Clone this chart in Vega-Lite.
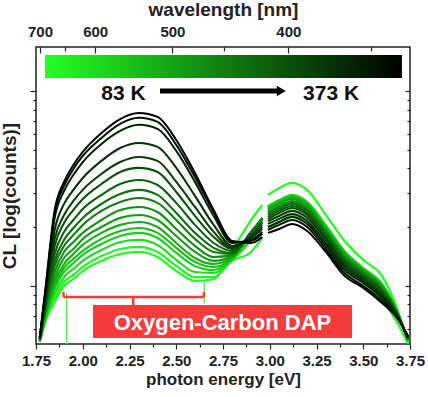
{
 "$schema": "https://vega.github.io/schema/vega-lite/v6.json",
 "width": 374, "height": 297,
 "autosize": {"type": "none"},
 "padding": {"left": 36, "top": 47, "right": 18, "bottom": 53},
 "background": "white",
 "config": {
  "view": {"stroke": "#222", "strokeWidth": 1.5},
  "font": "Liberation Sans",
  "axis": {"labelFont": "Liberation Sans", "titleFont": "Liberation Sans", "labelFontWeight": "bold", "titleFontWeight": "bold", "labelColor": "#222", "titleColor": "#222", "tickColor": "#222", "tickWidth": 1.2, "domain": false, "grid": false, "labelOverlap": false, "labelFlush": false}
 },
 "datasets": {
  "spec": [
   {"E":1.77,"s":1,"T83":2.710,"T101":2.710,"T119":2.710,"T137":2.716,"T155":2.716,"T173":2.716,"T191":2.721,"T209":2.721,"T227":2.721,"T245":2.721,"T263":2.726,"T281":2.726,"T299":2.726,"T317":2.726,"T335":2.731,"T353":2.731,"T373":2.731},
   {"E":1.80,"s":1,"T83":2.813,"T101":2.818,"T119":2.829,"T137":2.834,"T155":2.839,"T173":2.849,"T191":2.860,"T209":2.865,"T227":2.875,"T245":2.885,"T263":2.901,"T281":2.911,"T299":2.926,"T317":2.942,"T335":2.962,"T353":2.972,"T373":2.978},
   {"E":1.85,"s":1,"T83":2.916,"T101":2.932,"T119":2.957,"T137":2.983,"T155":2.998,"T173":3.019,"T191":3.039,"T209":3.070,"T227":3.101,"T245":3.127,"T263":3.163,"T281":3.204,"T299":3.240,"T317":3.286,"T335":3.348,"T353":3.373,"T373":3.389},
   {"E":1.90,"s":1,"T83":2.998,"T101":3.019,"T119":3.044,"T137":3.070,"T155":3.091,"T173":3.111,"T191":3.142,"T209":3.173,"T227":3.204,"T245":3.235,"T263":3.276,"T281":3.322,"T299":3.363,"T317":3.420,"T335":3.486,"T353":3.512,"T373":3.533},
   {"E":1.95,"s":1,"T83":3.034,"T101":3.055,"T119":3.086,"T137":3.116,"T155":3.137,"T173":3.163,"T191":3.188,"T209":3.224,"T227":3.260,"T245":3.296,"T263":3.337,"T281":3.389,"T299":3.435,"T317":3.492,"T335":3.569,"T353":3.599,"T373":3.620},
   {"E":2.00,"s":1,"T83":3.075,"T101":3.096,"T119":3.127,"T137":3.158,"T155":3.178,"T173":3.209,"T191":3.240,"T209":3.271,"T227":3.312,"T245":3.348,"T263":3.394,"T281":3.445,"T299":3.492,"T317":3.553,"T335":3.635,"T353":3.666,"T373":3.687},
   {"E":2.10,"s":1,"T83":3.127,"T101":3.152,"T119":3.183,"T137":3.214,"T155":3.240,"T173":3.271,"T191":3.301,"T209":3.337,"T227":3.384,"T245":3.420,"T263":3.466,"T281":3.522,"T299":3.574,"T317":3.641,"T335":3.728,"T353":3.759,"T373":3.784},
   {"E":2.20,"s":1,"T83":3.163,"T101":3.188,"T119":3.224,"T137":3.255,"T155":3.281,"T173":3.312,"T191":3.348,"T209":3.389,"T227":3.430,"T245":3.471,"T263":3.522,"T281":3.584,"T299":3.635,"T317":3.707,"T335":3.795,"T353":3.831,"T373":3.856},
   {"E":2.30,"s":1,"T83":3.173,"T101":3.199,"T119":3.235,"T137":3.271,"T155":3.296,"T173":3.327,"T191":3.363,"T209":3.404,"T227":3.450,"T245":3.492,"T263":3.543,"T281":3.605,"T299":3.661,"T317":3.733,"T335":3.826,"T353":3.862,"T373":3.887},
   {"E":2.40,"s":1,"T83":3.147,"T101":3.173,"T119":3.209,"T137":3.245,"T155":3.271,"T173":3.301,"T191":3.337,"T209":3.378,"T227":3.425,"T245":3.466,"T263":3.517,"T281":3.584,"T299":3.641,"T317":3.713,"T335":3.805,"T353":3.841,"T373":3.867},
   {"E":2.50,"s":1,"T83":3.075,"T101":3.101,"T119":3.132,"T137":3.168,"T155":3.194,"T173":3.219,"T191":3.255,"T209":3.291,"T227":3.337,"T245":3.373,"T263":3.425,"T281":3.481,"T299":3.533,"T317":3.605,"T335":3.692,"T353":3.723,"T373":3.748},
   {"E":2.60,"s":1,"T83":3.024,"T101":3.044,"T119":3.070,"T137":3.101,"T155":3.122,"T173":3.142,"T191":3.173,"T209":3.204,"T227":3.240,"T245":3.271,"T263":3.312,"T281":3.358,"T299":3.404,"T317":3.461,"T335":3.533,"T353":3.558,"T373":3.579},
   {"E":2.70,"s":1,"T83":3.034,"T101":3.044,"T119":3.065,"T137":3.080,"T155":3.096,"T173":3.111,"T191":3.127,"T209":3.147,"T227":3.173,"T245":3.194,"T263":3.219,"T281":3.250,"T299":3.276,"T317":3.312,"T335":3.358,"T353":3.378,"T373":3.389},
   {"E":2.80,"s":1,"T83":3.183,"T101":3.127,"T119":3.132,"T137":3.137,"T155":3.142,"T173":3.147,"T191":3.152,"T209":3.158,"T227":3.163,"T245":3.168,"T263":3.178,"T281":3.188,"T299":3.194,"T317":3.204,"T335":3.219,"T353":3.224,"T373":3.229},
   {"E":2.90,"s":1,"T83":3.337,"T101":3.173,"T119":3.235,"T137":3.255,"T155":3.266,"T173":3.271,"T191":3.276,"T209":3.276,"T227":3.276,"T245":3.271,"T263":3.266,"T281":3.260,"T299":3.255,"T317":3.245,"T335":3.235,"T353":3.229,"T373":3.219},
   {"E":2.96,"s":1,"T83":3.414,"T101":3.245,"T119":3.327,"T137":3.343,"T155":3.348,"T173":3.348,"T191":3.348,"T209":3.343,"T227":3.337,"T245":3.327,"T263":3.322,"T281":3.312,"T299":3.301,"T317":3.291,"T335":3.276,"T353":3.266,"T373":3.250},
   {"E":2.99,"s":2,"T83":3.466,"T101":3.286,"T119":3.409,"T137":3.404,"T155":3.399,"T173":3.394,"T191":3.389,"T209":3.378,"T227":3.373,"T245":3.363,"T263":3.353,"T281":3.343,"T299":3.332,"T317":3.317,"T335":3.301,"T353":3.286,"T373":3.271},
   {"E":3.05,"s":2,"T83":3.502,"T101":3.327,"T119":3.440,"T137":3.435,"T155":3.430,"T173":3.425,"T191":3.420,"T209":3.409,"T227":3.399,"T245":3.394,"T263":3.384,"T281":3.373,"T299":3.358,"T317":3.343,"T335":3.327,"T353":3.312,"T373":3.291},
   {"E":3.12,"s":2,"T83":3.528,"T101":3.358,"T119":3.466,"T137":3.461,"T155":3.456,"T173":3.450,"T191":3.445,"T209":3.435,"T227":3.425,"T245":3.420,"T263":3.409,"T281":3.399,"T299":3.384,"T317":3.368,"T335":3.353,"T353":3.337,"T373":3.317},
   {"E":3.20,"s":2,"T83":3.492,"T101":3.327,"T119":3.430,"T137":3.425,"T155":3.420,"T173":3.414,"T191":3.409,"T209":3.399,"T227":3.389,"T245":3.384,"T263":3.373,"T281":3.363,"T299":3.348,"T317":3.332,"T335":3.317,"T353":3.301,"T373":3.281},
   {"E":3.30,"s":2,"T83":3.363,"T101":3.214,"T119":3.312,"T137":3.301,"T155":3.296,"T173":3.291,"T191":3.286,"T209":3.281,"T227":3.271,"T245":3.266,"T263":3.255,"T281":3.245,"T299":3.235,"T317":3.219,"T335":3.204,"T353":3.188,"T373":3.173},
   {"E":3.40,"s":2,"T83":3.229,"T101":3.091,"T119":3.178,"T137":3.173,"T155":3.168,"T173":3.163,"T191":3.158,"T209":3.152,"T227":3.142,"T245":3.137,"T263":3.127,"T281":3.116,"T299":3.106,"T317":3.096,"T335":3.080,"T353":3.065,"T373":3.050},
   {"E":3.50,"s":2,"T83":3.132,"T101":3.014,"T119":3.091,"T137":3.086,"T155":3.080,"T173":3.080,"T191":3.075,"T209":3.070,"T227":3.065,"T245":3.055,"T263":3.050,"T281":3.044,"T299":3.034,"T317":3.024,"T335":3.014,"T353":2.998,"T373":2.988},
   {"E":3.60,"s":2,"T83":3.050,"T101":2.926,"T119":3.009,"T137":3.009,"T155":3.003,"T173":2.998,"T191":2.993,"T209":2.988,"T227":2.983,"T245":2.978,"T263":2.972,"T281":2.962,"T299":2.957,"T317":2.947,"T335":2.937,"T353":2.921,"T373":2.911},
   {"E":3.68,"s":2,"T83":2.885,"T101":2.813,"T119":2.870,"T137":2.870,"T155":2.870,"T173":2.865,"T191":2.865,"T209":2.865,"T227":2.860,"T245":2.860,"T263":2.854,"T281":2.854,"T299":2.849,"T317":2.844,"T335":2.844,"T353":2.839,"T373":2.834},
   {"E":3.74,"s":2,"T83":2.705,"T101":2.700,"T119":2.716,"T137":2.716,"T155":2.716,"T173":2.721,"T191":2.721,"T209":2.721,"T227":2.721,"T245":2.726,"T263":2.726,"T281":2.726,"T299":2.731,"T317":2.731,"T335":2.736,"T353":2.736,"T373":2.741}
  ]
 },
 "resolve": {"axis": {"x": "independent", "y": "independent"}},
 "layer": [
  {
   "data": {"name": "spec"},
   "transform": [{"fold": ["T83","T101","T119","T137","T155","T173","T191","T209","T227","T245","T263","T281","T299","T317","T335","T353","T373"], "as": ["T", "L"]}],
   "mark": {"type": "line", "interpolate": "monotone", "clip": true},
   "encoding": {
    "x": {"field": "E", "type": "quantitative", "scale": {"domain": [1.75, 3.75], "nice": false},
     "axis": {"orient": "bottom", "values": [1.75,1.875,2,2.125,2.25,2.375,2.5,2.625,2.75,2.875,3,3.125,3.25,3.375,3.5,3.625,3.75],
      "labelExpr": "abs(datum.value*4 - round(datum.value*4)) < 0.01 ? format(datum.value, '.2f') : ''",
      "tickSize": {"condition": {"test": "abs(datum.value*4 - round(datum.value*4)) < 0.01", "value": 5}, "value": 3},
      "labelFontSize": 15, "labelPadding": 4, "title": "photon energy [eV]", "titleFontSize": 17, "titlePadding": 3}},
    "y": {"field": "L", "type": "quantitative", "scale": {"domain": [2.7, 4.226], "nice": false, "zero": false},
     "axis": {"orient": "left", "values": [2.778,2.845,2.903,2.954,3,3.301,3.477,3.602,3.699,3.778,3.845,3.903,3.954,4], "labels": false,
      "tickSize": {"condition": {"test": "datum.value == 3 || datum.value == 4", "value": 6}, "value": 3},
      "title": "CL [log(counts)]", "titleFontSize": 19, "titlePadding": 10}},
    "color": {"field": "T", "type": "nominal", "legend": null,
     "scale": {"domain": ["T83","T101","T119","T137","T155","T173","T191","T209","T227","T245","T263","T281","T299","T317","T335","T353","T373"],
      "range": ["#1eff1e","#22f522","#1adf1a","#18cf18","#17bf17","#15af15","#139f13","#118f11","#0f800f","#0d700d","#0b600b","#095009","#084008","#063006","#042004","#021002","#000000"]}},
    "strokeWidth": {"field": "T", "type": "nominal", "legend": null,
     "scale": {"domain": ["T83","T101","T119","T137","T155","T173","T191","T209","T227","T245","T263","T281","T299","T317","T335","T353","T373"],
      "range": [2.2,2,2.1,2,1.9,1.8,1.7,1.6,1.5,1.4,1.3,1.3,1.2,1.2,1.2,1.2,1.2]}},
    "detail": {"field": "s", "type": "nominal"}
   }
  },
  {
   "data": {"values": [{"E1": 1.798, "E2": 3.707, "L1": 4.067, "L2": 4.185}]},
   "mark": {"type": "rect", "fill": {"gradient": "linear", "x1": 0, "x2": 1, "y1": 0, "y2": 0, "stops": [{"offset": 0, "color": "#22ff22"}, {"offset": 1, "color": "#000000"}]}},
   "encoding": {
    "x": {"field": "E1", "type": "quantitative", "scale": {"domain": [1.75, 3.75], "nice": false},
     "axis": {"orient": "top", "values": [1.7712,1.9074,2.0664,2.4797,2.7552,3.0996,3.5424],
      "labelExpr": "round(1239.84/datum.value) % 100 == 0 ? '' + round(1239.84/datum.value) : ''",
      "tickSize": {"condition": {"test": "round(1239.84/datum.value) % 100 == 0", "value": -6}, "value": -4},
      "labelFontSize": 15, "labelPadding": 14, "title": "wavelength [nm]", "titleFontSize": 19, "titlePadding": 3}},
    "x2": {"field": "E2"},
    "y": {"field": "L1", "type": "quantitative", "scale": {"domain": [2.7, 4.226], "nice": false, "zero": false},
     "axis": {"orient": "right", "values": [2.778,2.845,2.903,2.954,3,3.301,3.477,3.602,3.699,3.778,3.845,3.903,3.954,4], "labels": false,
      "tickSize": {"condition": {"test": "datum.value == 3 || datum.value == 4", "value": -5}, "value": -3}, "title": null}},
    "y2": {"field": "L2"}
   }
  },
  {
   "data": {"values": [{"E1": 2.413, "E2": 3.05, "L": 4.0}]},
   "mark": {"type": "rule", "strokeWidth": 5, "color": "#000"},
   "encoding": {
    "x": {"field": "E1", "type": "quantitative", "scale": {"domain": [1.75, 3.75], "nice": false}, "axis": null},
    "x2": {"field": "E2"},
    "y": {"field": "L", "type": "quantitative", "scale": {"domain": [2.7, 4.226], "nice": false, "zero": false}, "axis": null}
   }
  },
  {
   "data": {"values": [{"E": 3.062, "L": 4.0}]},
   "mark": {"type": "point", "shape": "triangle-right", "filled": true, "size": 110, "color": "#000", "opacity": 1},
   "encoding": {
    "x": {"field": "E", "type": "quantitative", "scale": {"domain": [1.75, 3.75], "nice": false}, "axis": null},
    "y": {"field": "L", "type": "quantitative", "scale": {"domain": [2.7, 4.226], "nice": false, "zero": false}, "axis": null}
   }
  },
  {
   "data": {"values": [{"E": 2.218, "L": 3.954, "t": "83 K"}, {"E": 3.328, "L": 3.954, "t": "373 K"}]},
   "mark": {"type": "text", "font": "Liberation Sans", "fontWeight": "bold", "fontSize": 21, "align": "center", "baseline": "alphabetic", "color": "#111"},
   "encoding": {
    "x": {"field": "E", "type": "quantitative", "scale": {"domain": [1.75, 3.75], "nice": false}, "axis": null},
    "y": {"field": "L", "type": "quantitative", "scale": {"domain": [2.7, 4.226], "nice": false, "zero": false}, "axis": null},
    "text": {"field": "t"}
   }
  },
  {
   "data": {"values": [{"E1": 1.914, "E2": 1.914, "L1": 2.7, "L2": 2.962}, {"E1": 2.65, "E2": 2.65, "L1": 2.911, "L2": 3.019}]},
   "mark": {"type": "rule", "strokeWidth": 1.5, "color": "#5cf05c"},
   "encoding": {
    "x": {"field": "E1", "type": "quantitative", "scale": {"domain": [1.75, 3.75], "nice": false}, "axis": null},
    "x2": {"field": "E2"},
    "y": {"field": "L1", "type": "quantitative", "scale": {"domain": [2.7, 4.226], "nice": false, "zero": false}, "axis": null},
    "y2": {"field": "L2"}
   }
  },
  {
   "data": {"values": [
     {"E1": 1.897, "E2": 2.648, "L1": 2.942, "L2": 2.942},
     {"E1": 1.897, "E2": 1.897, "L1": 2.942, "L2": 2.967},
     {"E1": 2.648, "E2": 2.648, "L1": 2.942, "L2": 2.967},
     {"E1": 2.27, "E2": 2.27, "L1": 2.942, "L2": 2.9}
   ]},
   "mark": {"type": "rule", "strokeWidth": 2.5, "color": "#f23c3c"},
   "encoding": {
    "x": {"field": "E1", "type": "quantitative", "scale": {"domain": [1.75, 3.75], "nice": false}, "axis": null},
    "x2": {"field": "E2"},
    "y": {"field": "L1", "type": "quantitative", "scale": {"domain": [2.7, 4.226], "nice": false, "zero": false}, "axis": null},
    "y2": {"field": "L2"}
   }
  },
  {
   "data": {"values": [{"E1": 2.055, "E2": 3.44, "L1": 2.731, "L2": 2.901}]},
   "mark": {"type": "rect", "color": "#f43c3c", "opacity": 1},
   "encoding": {
    "x": {"field": "E1", "type": "quantitative", "scale": {"domain": [1.75, 3.75], "nice": false}, "axis": null},
    "x2": {"field": "E2"},
    "y": {"field": "L1", "type": "quantitative", "scale": {"domain": [2.7, 4.226], "nice": false, "zero": false}, "axis": null},
    "y2": {"field": "L2"}
   }
  },
  {
   "data": {"values": [{"E": 2.747, "L": 2.772, "t": "Oxygen-Carbon DAP"}]},
   "mark": {"type": "text", "font": "Liberation Sans", "fontWeight": "bold", "fontSize": 22, "align": "center", "baseline": "alphabetic", "color": "#ffffff"},
   "encoding": {
    "x": {"field": "E", "type": "quantitative", "scale": {"domain": [1.75, 3.75], "nice": false}, "axis": null},
    "y": {"field": "L", "type": "quantitative", "scale": {"domain": [2.7, 4.226], "nice": false, "zero": false}, "axis": null},
    "text": {"field": "t"}
   }
  }
 ]
}
